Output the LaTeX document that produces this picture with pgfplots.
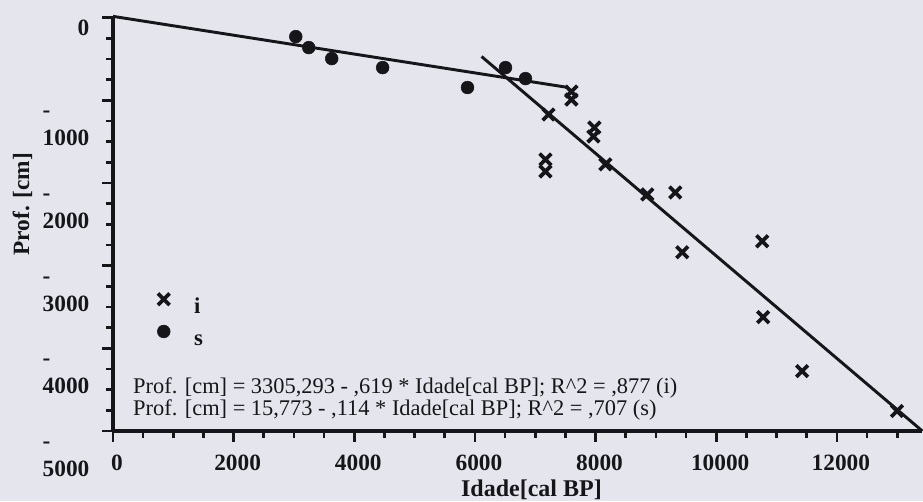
\documentclass[border=0pt]{standalone}
\usepackage{fontspec}
\setmainfont{Liberation Serif}
\usepackage{pgfplots}
\pgfplotsset{compat=1.18}
\definecolor{bg}{RGB}{229,230,237}
\definecolor{ink}{RGB}{22,22,26}
\newcommand\ml[1]{\begin{tabular}[t]{@{}l@{}}-\\[1pt]#1\end{tabular}}
\begin{document}
\begin{tikzpicture}
\path[use as bounding box, fill=bg] (-84.75pt,-52.5pt) rectangle (607.5pt,323.25pt);
\begin{axis}[
  at={(0,0)}, anchor=south west,
  scale only axis, width=607pt, height=310pt,
  xmin=0, xmax=13417, ymin=-5000, ymax=0,
  scaled x ticks=false, scaled y ticks=false,
  axis lines=left,
  axis line style={-, line width=2.7pt, ink},
  clip=false,
  xtick={0,2000,4000,6000,8000,10000,12000},
  xticklabels={0,2000,4000,6000,8000,10000,12000},
  minor xtick={500,1000,1500,2500,3000,3500,4500,5000,5500,6500,7000,7500,8500,9000,9500,10500,11000,11500,12500,13000},
  ytick={0,-1000,-2000,-3000,-4000,-5000},
  yticklabels={0,\ml{1000},\ml{2000},\ml{3000},\ml{4000},\ml{5000}},
  minor ytick={-250,-500,-750,-1250,-1500,-1750,-2250,-2500,-2750,-3250,-3500,-3750,-4250,-4500,-4750},
  tick align=outside,
  major tick length=8pt, minor tick length=5pt,
  every tick/.style={ink, line width=2pt},
  ticklabel style={font=\fontsize{17.5}{20}\selectfont\bfseries, text=ink, inner sep=0pt},
  xticklabel style={anchor=north, yshift=-10pt, xshift=3pt},
  yticklabel style={anchor=base east, yshift=-13pt, xshift=-9.5pt},
  xlabel={Idade[cal BP]},
  ylabel={Prof. [cm]},
  xlabel style={at={(axis description cs:0.517,0)}, anchor=center, yshift=-44pt, font=\fontsize{18}{20}\selectfont\bfseries, text=ink},
  ylabel style={at={(axis description cs:-0.112,0.549)}, anchor=center, font=\fontsize{17.5}{20}\selectfont\bfseries, text=ink},
  legend style={at={(axis cs:665,-3300)}, anchor=north west, draw=none, fill=none,
    font=\fontsize{17}{20}\selectfont\bfseries, text=ink, row sep=15pt},
  legend cell align=left,
]
\addplot[only marks, mark=x, mark size=6.2pt, mark options={line width=2.8pt}, ink] coordinates {
(7599,-894) (7599,-990) (7219,-1171) (7980,-1329) (7964,-1437)
(7169,-1715) (7169,-1860) (8162,-1775) (8858,-2138) (9321,-2114)
(9437,-2838) (10762,-2705) (10778,-3623) (11424,-4275) (12997,-4758)
};
\addlegendentry{\hspace{16pt}\raisebox{-11pt}{i}}
\addplot[only marks, mark=*, mark size=4.8pt, ink] coordinates {
(3030,-229) (3245,-362) (3626,-495) (4470,-604) (5877,-845) (6507,-604) (6838,-737)
};
\addlegendentry{\hspace{16pt}\raisebox{-11pt}{s}}
\addplot[forget plot, no marks, ink, line width=2.2pt] coordinates {(6110,-470) (13417,-5000)};
\addplot[forget plot, no marks, ink, line width=2.2pt] coordinates {(0,15.8) (7540,-843.8)};
\node[anchor=west, inner sep=0pt, font=\fontsize{16.8}{17}\selectfont, text=ink] at (axis cs:331,-4480) {Prof. [cm] = 3305,293 - ,619 * Idade[cal BP]; R\textasciicircum 2 = ,877 (i)};
\node[anchor=west, inner sep=0pt, font=\fontsize{16.8}{17}\selectfont, text=ink] at (axis cs:331,-4745) {Prof. [cm] = 15,773 - ,114 * Idade[cal BP]; R\textasciicircum 2 = ,707 (s)};
\end{axis}
\end{tikzpicture}
\end{document}
